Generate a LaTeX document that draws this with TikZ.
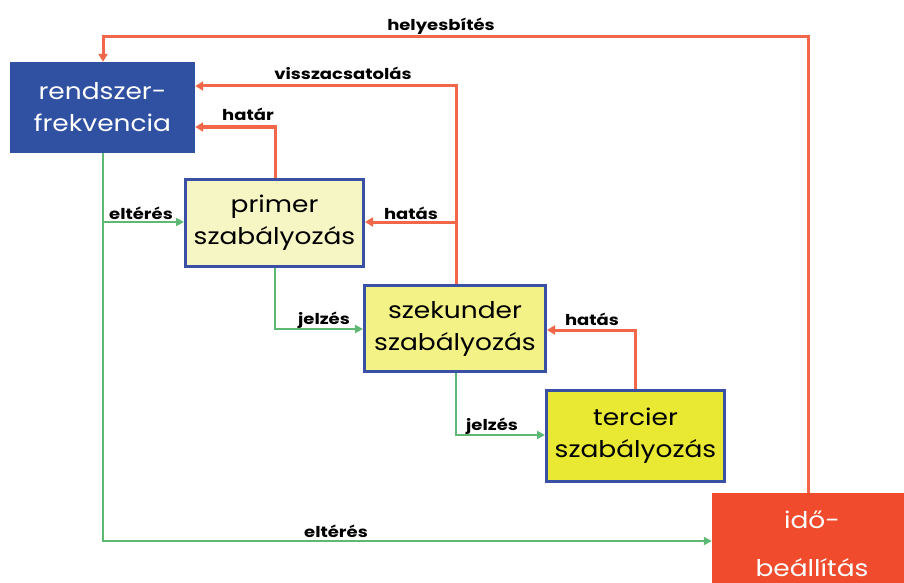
\documentclass[tikz,border=0pt]{standalone}
\usepackage{fontspec}
\setmainfont{Poppins}
\newfontfamily\boxfont{Poppins}[FakeStretch=1.15]
\newfontfamily\lblfont{Poppins}[FakeStretch=1.2]
\usetikzlibrary{arrows.meta}
\definecolor{navy}{HTML}{3050A2}
\definecolor{frame}{HTML}{3A50A4}
\definecolor{paleyel}{HTML}{F6F6C4}
\definecolor{midyel}{HTML}{F2F286}
\definecolor{brightyel}{HTML}{E9E933}
\definecolor{redbox}{HTML}{EF4B2C}
\definecolor{redline}{HTML}{F2664A}
\definecolor{greenline}{HTML}{5DB874}
\tikzset{
  x=1pt, y=-1pt,
  box/.style={draw=frame, line width=3pt, align=center, inner sep=0pt,
    font=\boxfont\fontsize{23}{32}\selectfont},
  solidbox/.style={draw=none, align=center, inner sep=0pt, text=white,
    font=\boxfont\fontsize{23}{32}\selectfont},
  redarrow/.style={draw=redline, line width=3pt,
    -{Triangle[length=8pt,width=9pt]}},
  greenarrow/.style={draw=greenline, line width=2.5pt,
    -{Triangle[length=8pt,width=8pt]}},
  lbl/.style={font=\lblfont\bfseries\fontsize{15}{17}\selectfont, inner sep=1pt, text=black}
}
\begin{document}
\begin{tikzpicture}
\useasboundingbox (0,0) rectangle (904,583);
\clip (0,0) rectangle (904,583);

% blocks
\node[solidbox, fill=navy, minimum width=185pt, minimum height=91pt]
  (freq) at (102.5,107.5) {rendszer-\\frekvencia};
\node[box, fill=paleyel, minimum width=178pt, minimum height=87pt]
  (prim) at (274.5,223) {primer\\szabályozás};
\node[box, fill=midyel, minimum width=181pt, minimum height=86pt]
  (szek) at (455,328.5) {szekunder\\szabályozás};
\node[box, fill=brightyel, minimum width=178pt, minimum height=91pt]
  (terc) at (635.5,436) {tercier\\szabályozás};
\node[solidbox, fill=redbox, minimum width=200pt, minimum height=102pt,
  font=\boxfont\fontsize{23}{48}\selectfont]
  (ido) at (812,544) {idő-\\beállítás};

% corner points of the feedback paths
\coordinate (hTopR) at (808,37);
\coordinate (hTopL) at (103,37);
\coordinate (vTop) at (456,86);
\coordinate (pTop) at (275,127);
\coordinate (hBr) at (456,222);
\coordinate (eBr) at (103,222);
\coordinate (eBot) at (103,541);
\coordinate (j1) at (275,329);
\coordinate (t1) at (635,330);
\coordinate (j2) at (456,435);

% red paths (feedback)
\draw[redarrow] (ido.north -| hTopR) -- (hTopR) -- (hTopL) -- (freq.north -| hTopL);
\draw[redarrow] (szek.north -| vTop) -- (vTop) -- (freq.east |- vTop);
\draw[redarrow] (prim.north -| pTop) -- (pTop) -- (freq.east |- pTop);
\draw[redarrow] (hBr) -- (prim.east |- hBr);
\draw[redarrow] (terc.north -| t1) -- (t1) -- (szek.east |- t1);

% green paths (signals)
\draw[greenarrow] (freq.south -| eBr) -- (eBot) -- (ido.west |- eBot);
\draw[greenarrow] (eBr) -- (prim.west |- eBr);
\draw[greenarrow] (prim.south -| j1) -- (j1) -- (szek.west |- j1);
\draw[greenarrow] (szek.south -| j2) -- (j2) -- (terc.west |- j2);

% labels
\node[lbl] (lh) at (441,26) {helyesbítés};
\node[lbl] (lv) at (343,73) {visszacsatolás};
\node[lbl] (lha) at (248,114) {határ};
\node[lbl] (lhs1) at (411,213) {hatás};
\node[lbl] (le1) at (141,213) {eltérés};
\node[lbl] (lj1) at (324,320) {jelzés};
\node[lbl] (lhs2) at (592,319) {hatás};
\node[lbl] (lj2) at (492,426) {jelzés};
\node[lbl] (le2) at (336,531) {eltérés};
\end{tikzpicture}
\end{document}
